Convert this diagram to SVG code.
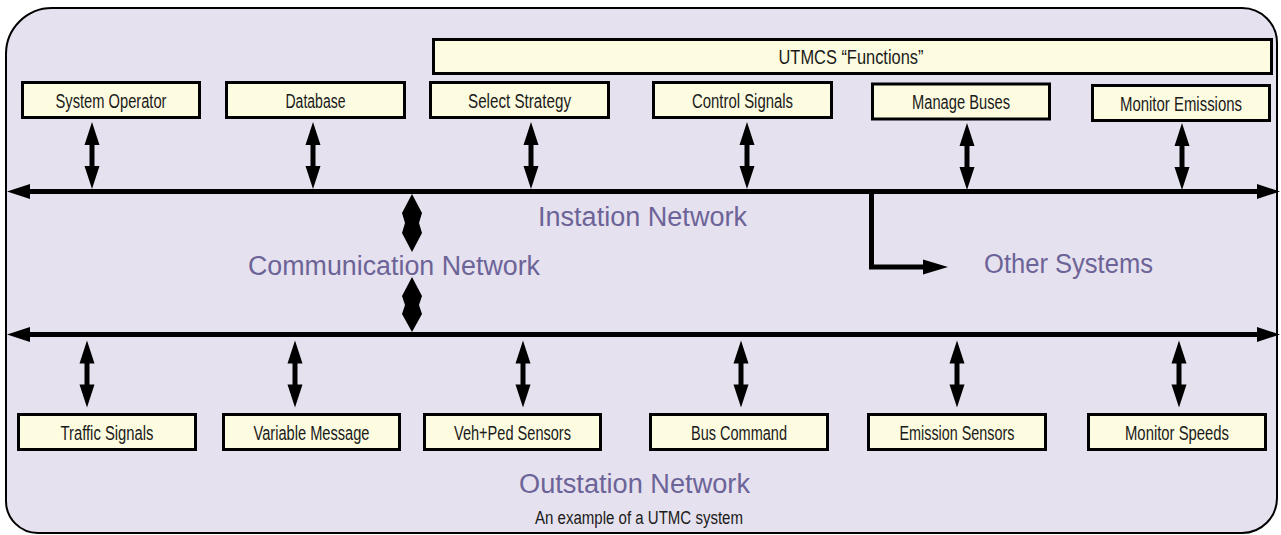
<svg xmlns="http://www.w3.org/2000/svg" width="1281" height="535" viewBox="0 0 1281 535">
  <style>
    .frame { fill: #e6e1ee; stroke: #000; stroke-width: 2; }
    .box { fill: #fdfce0; stroke: #000; stroke-width: 3; }
    .lbl { font-family: "Liberation Sans", Arial, sans-serif; font-size: 20px; fill: #1a1a1a; text-anchor: middle; }
    .net { font-family: "Liberation Sans", Arial, sans-serif; font-size: 27px; fill: #6c6498; }
    .cap { font-family: "Liberation Sans", Arial, sans-serif; font-size: 18px; fill: #1a1a1a; }
    .bus { stroke: #000; stroke-width: 5; fill: none; }
    .head { fill: #000; }
  </style>
  <defs>
    <!-- short two-way link between a box and a bus line -->
    <path id="link2" d="M0,0 L7.5,23 L2.5,23 L2.5,44 L7.5,44 L0,67 L-7.5,44 L-2.5,44 L-2.5,23 L-7.5,23 Z" fill="#000"/>
  </defs>

  <!-- background panel -->
  <path class="frame" d="M52,8 H1242 A35,35 0 0 1 1277,43 V498 A35,35 0 0 1 1242,533 H38 A32,32 0 0 1 6,501 V54 A46,46 0 0 1 52,8 Z"/>

  <!-- connectors -->
  <g id="connectors">
    <!-- instation bus -->
    <line class="bus" x1="26" y1="191.5" x2="1260" y2="191.5"/>
    <polygon class="head" points="7,191.5 30,184 30,199"/>
    <polygon class="head" points="1280,191.5 1257,184 1257,199"/>
    <!-- outstation bus -->
    <line class="bus" x1="26" y1="334.5" x2="1260" y2="334.5"/>
    <polygon class="head" points="7,334.5 30,327 30,342"/>
    <polygon class="head" points="1280,334.5 1257,327 1257,342"/>
    <!-- branch to other systems -->
    <path class="bus" d="M871.5,189 V267 H926"/>
    <polygon class="head" points="948,267 923,259.5 923,274.5"/>
    <!-- communication network links -->
    <polygon class="head" points="412,194 422,213 419,223 422,233 412,252 402,233 405,223 402,213"/>
    <polygon class="head" points="412,277 422,296 419,305 422,314 412,332 402,314 405,305 402,296"/>
    <!-- box links, top row -->
    <use href="#link2" transform="translate(92,122)"/>
    <use href="#link2" transform="translate(313,122)"/>
    <use href="#link2" transform="translate(531,122)"/>
    <use href="#link2" transform="translate(747,122)"/>
    <use href="#link2" transform="translate(967,123)"/>
    <use href="#link2" transform="translate(1182,123)"/>
    <!-- box links, bottom row -->
    <use href="#link2" transform="translate(87,340.5)"/>
    <use href="#link2" transform="translate(295,340.5)"/>
    <use href="#link2" transform="translate(523,340.5)"/>
    <use href="#link2" transform="translate(741,340.5)"/>
    <use href="#link2" transform="translate(957,340.5)"/>
    <use href="#link2" transform="translate(1179,340.5)"/>
  </g>

  <!-- function header -->
  <g id="utmcs-functions">
    <rect class="box" x="433.5" y="39.5" width="838" height="34"/>
    <text class="lbl" x="851" y="63.5" textLength="145" lengthAdjust="spacingAndGlyphs">UTMCS “Functions”</text>
  </g>

  <!-- instation nodes -->
  <g id="system-operator">
    <rect class="box" x="22.5" y="82.5" width="177" height="35"/>
    <text class="lbl" x="111" y="107.5" textLength="111" lengthAdjust="spacingAndGlyphs">System Operator</text>
  </g>
  <g id="database">
    <rect class="box" x="226.5" y="82.5" width="178" height="35"/>
    <text class="lbl" x="315.5" y="107.5" textLength="60" lengthAdjust="spacingAndGlyphs">Database</text>
  </g>
  <g id="select-strategy">
    <rect class="box" x="430.5" y="82.5" width="178" height="35"/>
    <text class="lbl" x="519.5" y="107.5" textLength="103" lengthAdjust="spacingAndGlyphs">Select Strategy</text>
  </g>
  <g id="control-signals">
    <rect class="box" x="653.5" y="82.5" width="178" height="35"/>
    <text class="lbl" x="742.5" y="107.5" textLength="101" lengthAdjust="spacingAndGlyphs">Control Signals</text>
  </g>
  <g id="manage-buses">
    <rect class="box" x="872.5" y="84" width="177" height="35"/>
    <text class="lbl" x="961" y="109" textLength="98" lengthAdjust="spacingAndGlyphs">Manage Buses</text>
  </g>
  <g id="monitor-emissions">
    <rect class="box" x="1092.5" y="85.5" width="177" height="35"/>
    <text class="lbl" x="1181" y="110.5" textLength="122" lengthAdjust="spacingAndGlyphs">Monitor Emissions</text>
  </g>

  <!-- outstation nodes -->
  <g id="traffic-signals">
    <rect class="box" x="18.5" y="414.5" width="177" height="35"/>
    <text class="lbl" x="107" y="439.5" textLength="93" lengthAdjust="spacingAndGlyphs">Traffic Signals</text>
  </g>
  <g id="variable-message">
    <rect class="box" x="223.5" y="414.5" width="176" height="35"/>
    <text class="lbl" x="311.5" y="439.5" textLength="116" lengthAdjust="spacingAndGlyphs">Variable Message</text>
  </g>
  <g id="veh-ped-sensors">
    <rect class="box" x="424.5" y="414.5" width="176" height="35"/>
    <text class="lbl" x="512.5" y="439.5" textLength="117" lengthAdjust="spacingAndGlyphs">Veh+Ped Sensors</text>
  </g>
  <g id="bus-command">
    <rect class="box" x="650.5" y="414.5" width="177" height="35"/>
    <text class="lbl" x="739" y="439.5" textLength="96" lengthAdjust="spacingAndGlyphs">Bus Command</text>
  </g>
  <g id="emission-sensors">
    <rect class="box" x="868.5" y="414.5" width="177" height="35"/>
    <text class="lbl" x="957" y="439.5" textLength="115" lengthAdjust="spacingAndGlyphs">Emission Sensors</text>
  </g>
  <g id="monitor-speeds">
    <rect class="box" x="1088.5" y="414.5" width="177" height="35"/>
    <text class="lbl" x="1177" y="439.5" textLength="104" lengthAdjust="spacingAndGlyphs">Monitor Speeds</text>
  </g>

  <!-- network labels -->
  <g id="labels">
    <text class="net" x="538" y="226" textLength="209" lengthAdjust="spacingAndGlyphs">Instation Network</text>
    <text class="net" x="248" y="275" textLength="292" lengthAdjust="spacingAndGlyphs">Communication Network</text>
    <text class="net" x="984" y="273" textLength="169" lengthAdjust="spacingAndGlyphs">Other Systems</text>
    <text class="net" x="519" y="493" textLength="231" lengthAdjust="spacingAndGlyphs">Outstation Network</text>
    <text class="cap" x="535" y="523.5" textLength="208" lengthAdjust="spacingAndGlyphs">An example of a UTMC system</text>
  </g>
</svg>
